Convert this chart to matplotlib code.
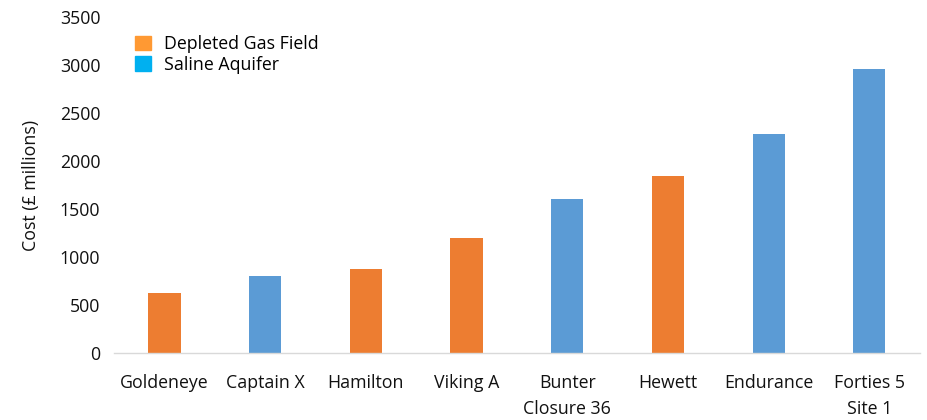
import matplotlib.pyplot as plt
from matplotlib.patches import Patch

plt.rcParams['font.family'] = ['Open Sans', 'DejaVu Sans']

sites = ['Goldeneye', 'Captain X', 'Hamilton', 'Viking A', 'Bunter\nClosure 36',
         'Hewett', 'Endurance', 'Forties 5\nSite 1']
cost = [620, 800, 870, 1200, 1600, 1840, 2280, 2960]
store_type = ['gas', 'aquifer', 'gas', 'gas', 'aquifer', 'gas', 'aquifer', 'aquifer']

bar_colors = {'gas': '#ED7D31', 'aquifer': '#5B9BD5'}
legend_colors = {'gas': '#FF9933', 'aquifer': '#00B0F0'}
legend_names = {'gas': 'Depleted Gas Field', 'aquifer': 'Saline Aquifer'}

fs = 12.8

fig = plt.figure(figsize=(9.28, 4.2), dpi=100)
ax = fig.add_axes([0.123, 0.1595, 0.868, 0.80])

x = range(len(sites))
ax.bar(x, cost, width=0.32, color=[bar_colors[t] for t in store_type])

ax.set_xlim(-0.5, len(sites) - 0.5)
ax.set_ylim(0, 3500)
ax.set_yticks(range(0, 3501, 500))
ax.set_xticks(list(x))
ax.set_xticklabels(sites, fontsize=fs, color='#111111', linespacing=1.55)
ax.tick_params(axis='both', length=0, labelsize=fs, colors='#111111')
ax.tick_params(axis='x', pad=15)
ax.tick_params(axis='y', pad=10)

for s in ['top', 'right', 'left']:
    ax.spines[s].set_visible(False)
ax.spines['bottom'].set_color('#D9D9D9')
ax.spines['bottom'].set_linewidth(1)

ax.set_ylabel('Cost (£ millions)', fontsize=fs, color='#111111', labelpad=14)

handles = [Patch(color=legend_colors[k], label=legend_names[k]) for k in ['gas', 'aquifer']]
ax.legend(handles=handles, loc='upper left', bbox_to_anchor=(0.0, 1.01),
          frameon=False, fontsize=fs, handlelength=0.85, handleheight=0.85,
          handletextpad=0.75, labelspacing=0.15, borderaxespad=0.8)

fig.savefig('out.png', dpi=100)
